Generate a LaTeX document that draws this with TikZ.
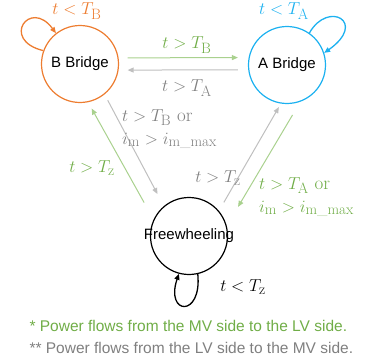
\documentclass[tikz,border=0pt]{standalone}
\usepackage{amsmath}
\usepackage{fontspec}
\setsansfont{Liberation Sans}
\usetikzlibrary{arrows.meta}
\DeclareMathSizes{19}{19}{15}{12}
\definecolor{bcol}{HTML}{ED7D31}
\definecolor{acol}{HTML}{1CB1F0}
\definecolor{gtxt}{HTML}{70AD47}
\definecolor{gln}{HTML}{A9D18E}
\definecolor{ytxt}{HTML}{7F7F7F}
\definecolor{yln}{HTML}{BFBFBF}

\begin{document}
\begin{tikzpicture}[x=1pt, y=-1pt,
  every node/.style={font=\fontsize{19}{23}\selectfont},
  st/.style ={circle, draw, minimum size=77pt, inner sep=0pt, line width=1.2pt,
              font=\sffamily\fontsize{15}{18}\selectfont},
  bst/.style={st, draw=bcol},
  ast/.style={st, draw=acol},
  fst/.style={st, draw=black},
  tip/.style={-{Triangle[length=6pt,width=5pt]}},
  gl/.style ={tip, draw=gln, line width=1pt},
  gy/.style ={tip, draw=yln, line width=1pt},
  lp/.style ={tip, line width=1.3pt},
  note/.style={anchor=west, font=\sffamily\fontsize{15.5}{18}\selectfont}
]
\useasboundingbox (0,0) rectangle (368,362);

%% states
\node[bst] (bb) at (80,64)   {B Bridge};
\node[ast] (ab) at (287,65)  {A Bridge};
\node[fst] (fw) at (189,236) {\makebox[0pt]{Freewheeling}};

%% transitions
\foreach \a/\b/\s/\p/\q in {bb.9.4/ab.169.2/gl/9pt/10.7pt,
                            ab.187.4/bb.-9/gy/10.3pt/9pt,
                            bb.-51.6/fw.130.3/gy/6.6pt/13.6pt,
                            fw.155/bb.-78.9/gl/19.4pt/7.2pt,
                            fw.40.1/ab.261.1/gy/9.8pt/4pt,
                            ab.-70.7/fw.15.2/gl/15.4pt/22.1pt}
  \draw[\s, shorten <=\p, shorten >=\q] (\a) -- (\b);

%% self loops
\draw[lp, draw=bcol] (bb.160) .. controls (0,40) and (30,-2) .. (bb.128);
\draw[lp, draw=acol] (ab.55) .. controls (328,0) and (368,22) .. (ab.18);
\draw[lp, draw=black] (fw.-77) .. controls (202,318) and (165,315) .. (fw.-105);

%% conditions
\node[text=bcol] (lbb) at (77,11)  {$t<T_{\mathrm{B}}$};
\node[text=acol] (lab) at (284,11) {$t<T_{\mathrm{A}}$};
\node[text=gtxt] (lba) at (187,45) {$t>T_{\mathrm{B}}$};
\node[text=ytxt] (lag) at (187,88) {$t>T_{\mathrm{A}}$};
\node[text=ytxt, anchor=north west, align=left, inner sep=0pt] (lbf) at (122,109)
  {$t>T_{\mathrm{B}}$ or\\ $i_{\mathrm{m}}>i_{\mathrm{m\_max}}$};
\node[text=gtxt] (lfb) at (92,168)  {$t>T_{\mathrm{z}}$};
\node[text=ytxt] (lfa) at (218,178) {$t>T_{\mathrm{z}}$};
\node[text=gtxt, anchor=north west, align=left, inner sep=0pt] (laf) at (259,177)
  {$t>T_{\mathrm{A}}$ or\\ $i_{\mathrm{m}}>i_{\mathrm{m\_max}}$};
\node (lff) at (243,287) {$t<T_{\mathrm{z}}$};

%% notes
\node[note, text=gtxt] (n1) at (26,326) {* Power flows from the MV side to the LV side.};
\node[note, text=ytxt] (n2) at (26,348) {** Power flows from the LV side to the MV side.};
\end{tikzpicture}
\end{document}
